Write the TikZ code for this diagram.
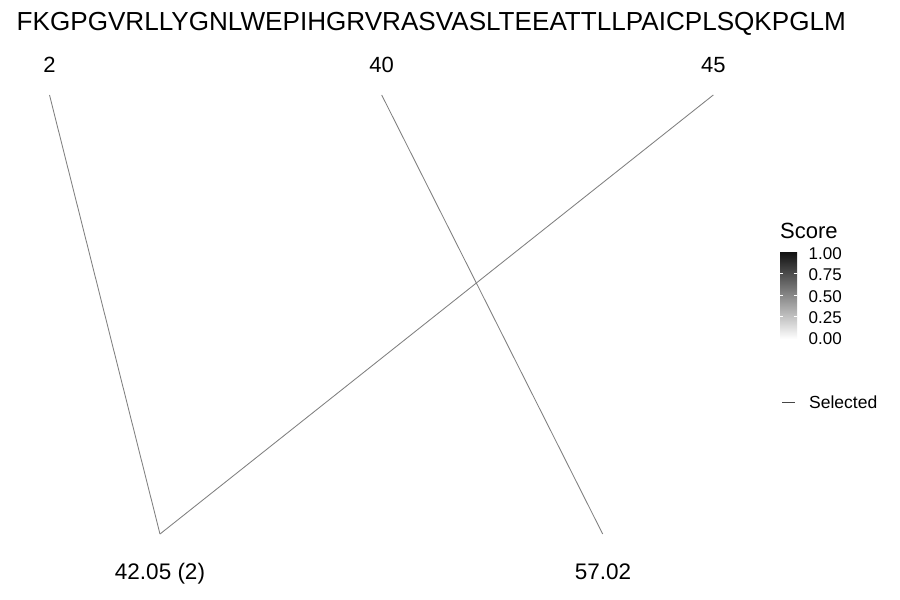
\documentclass[tikz,border=0pt]{standalone}
\usepackage{fontspec}
\setmainfont{Liberation Sans}
\definecolor{linkgray}{RGB}{128,128,128}
\definecolor{keygray}{RGB}{70,70,70}
\begin{document}
\begin{tikzpicture}[x=1pt,y=-1pt,
  seqtext/.style={font=\fontsize{26.1}{30}\selectfont, inner sep=0pt, anchor=base west},
  posl/.style={font=\fontsize{22}{26}\selectfont, inner sep=0pt, anchor=base},
  massl/.style={font=\fontsize{22.5}{26}\selectfont, inner sep=0pt, anchor=base},
  legtitle/.style={font=\fontsize{22}{24}\selectfont, inner sep=0pt, anchor=base west},
  legtick/.style={font=\fontsize{17}{19}\selectfont, inner sep=0pt, anchor=base west},
  legtext/.style={font=\fontsize{17.5}{20}\selectfont, inner sep=0pt, anchor=base west},
  link/.style={draw=linkgray, line width=0.85pt},
  tickmark/.style={draw=white, line width=0.6pt}]
\useasboundingbox[fill=white] (0,0) rectangle (900,600);

\node[seqtext] (seq) at (16.5,30.5) {FKGPGVRLLYGNLWEPIHGRVRASVASLTEEATTLLPAICPLSQKPGLM};

\node[posl] (p2) at (49.5,72) {2};
\node[posl] (p40) at (381.7,72) {40};
\node[posl] (p45) at (713.3,72) {45};

\node[massl] (m1) at (160,579) {42.05 (2)};
\node[massl] (m2) at (603,579) {57.02};

\coordinate (t2) at (49.5,95);
\coordinate (t40) at (381.7,95);
\coordinate (t45) at (713.3,95);
\coordinate (b1) at (160,534);
\coordinate (b2) at (602.7,534);

\draw[link] (t2) -- (b1);
\draw[link] (t45) -- (b1);
\draw[link] (t40) -- (b2);

% legend
\node[legtitle] (score) at (780,238) {Score};
\shade[top color=black!93, bottom color=white] (780,252) rectangle (797,339);
\foreach \yy in {273.5,295,316.5}{
  \draw[tickmark] (780,\yy) -- (783.4,\yy);
  \draw[tickmark] (793.6,\yy) -- (797,\yy);
}
\node[legtick] (l100) at (808.5,259.5) {1.00};
\node[legtick] (l075) at (808.5,280.8) {0.75};
\node[legtick] (l050) at (808.5,302.1) {0.50};
\node[legtick] (l025) at (808.5,323.4) {0.25};
\node[legtick] (l000) at (808.5,344.6) {0.00};

\coordinate (k1) at (782,402.3);
\coordinate (k2) at (794.5,402.3);
\draw[draw=keygray, line width=0.85pt] (k1) -- (k2);
\node[legtext] (sel) at (809,408.3) {Selected};
\end{tikzpicture}
\end{document}
